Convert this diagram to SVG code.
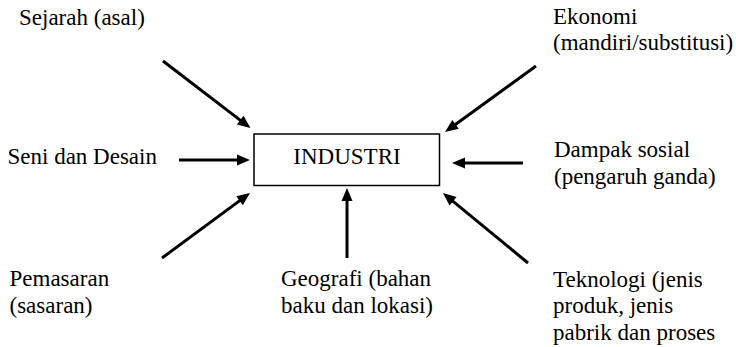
<svg xmlns="http://www.w3.org/2000/svg" width="736" height="347" viewBox="0 0 736 347" font-family="'Liberation Serif', serif">
<style>
.t{font-family:'Liberation Serif',serif;font-size:23px;fill:#000}
.c{stroke:#000;stroke-width:3;fill:none}
.box{fill:#fff;stroke:#000;stroke-width:1.5}
.h{fill:#000}
</style>
<defs>
<path id="ah" d="M-13,-5.5 L0,0 L-13,5.5 z"/>
</defs>
<rect width="736" height="347" fill="#fff"/>
<g id="industri">
<rect class="box" x="254" y="134" width="185.5" height="51.5"/>
<text class="t" style="font-family:'Liberation Serif',serif" x="347" y="164" text-anchor="middle">INDUSTRI</text>
</g>
<g id="sejarah"><text class="t" style="font-family:'Liberation Serif',serif" x="19" y="25">Sejarah (asal)</text></g>
<g id="ekonomi"><text class="t" style="font-family:'Liberation Serif',serif" x="553" y="24">Ekonomi</text><text class="t" style="font-family:'Liberation Serif',serif" x="553" y="49.5">(mandiri/substitusi)</text></g>
<g id="seni"><text class="t" style="font-family:'Liberation Serif',serif" x="7.5" y="163.5">Seni dan Desain</text></g>
<g id="dampak"><text class="t" style="font-family:'Liberation Serif',serif" x="554" y="157">Dampak sosial</text><text class="t" style="font-family:'Liberation Serif',serif" x="554" y="183.5">(pengaruh ganda)</text></g>
<g id="pemasaran"><text class="t" style="font-family:'Liberation Serif',serif" x="9.5" y="286">Pemasaran</text><text class="t" style="font-family:'Liberation Serif',serif" x="9.5" y="312.5">(sasaran)</text></g>
<g id="geografi"><text class="t" style="font-family:'Liberation Serif',serif" x="281" y="286">Geografi (bahan</text><text class="t" style="font-family:'Liberation Serif',serif" x="281" y="312.5">baku dan lokasi)</text></g>
<g id="teknologi"><text class="t" style="font-family:'Liberation Serif',serif" x="553" y="286.5">Teknologi (jenis</text><text class="t" style="font-family:'Liberation Serif',serif" x="553" y="313">produk, jenis</text><text class="t" style="font-family:'Liberation Serif',serif" x="553" y="339.5">pabrik dan proses</text></g>
<g id="connectors">
<line class="c" x1="163" y1="61" x2="245.7" y2="124.4"/>
<use href="#ah" class="h" transform="translate(250.5,128) rotate(37.4)"/>
<line class="c" x1="536" y1="66" x2="449.9" y2="128.5"/>
<use href="#ah" class="h" transform="translate(445,132) rotate(144.05)"/>
<line class="c" x1="179" y1="160" x2="244" y2="160"/>
<use href="#ah" class="h" transform="translate(250,160)"/>
<line class="c" x1="523" y1="163" x2="458" y2="163"/>
<use href="#ah" class="h" transform="translate(452,163) rotate(180)"/>
<line class="c" x1="162" y1="258" x2="245.2" y2="196.6"/>
<use href="#ah" class="h" transform="translate(250,193) rotate(-36.45)"/>
<line class="c" x1="347" y1="258" x2="347" y2="194"/>
<use href="#ah" class="h" transform="translate(347,188) rotate(-90)"/>
<line class="c" x1="528" y1="263" x2="447.6" y2="196.8"/>
<use href="#ah" class="h" transform="translate(443,193) rotate(-140.5)"/>
</g>
</svg>
